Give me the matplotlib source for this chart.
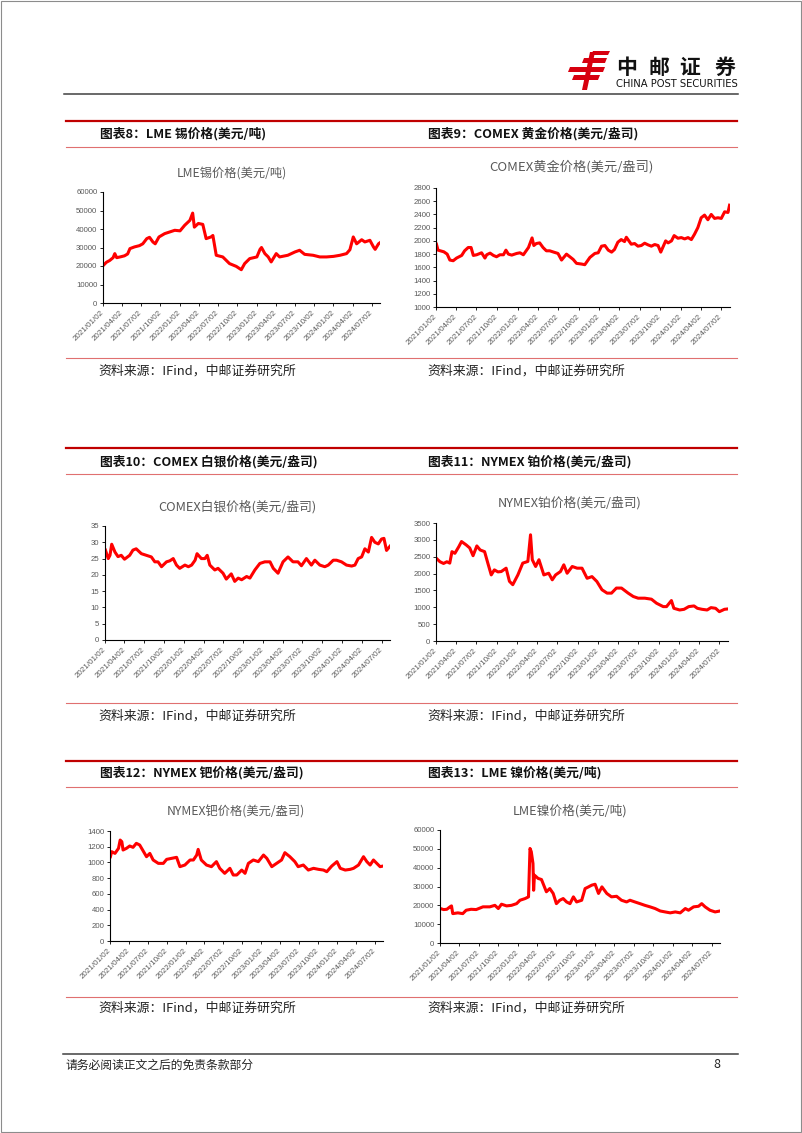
import matplotlib
matplotlib.use('Agg')
import matplotlib.pyplot as plt
from matplotlib.patches import Polygon, Rectangle
import pandas as pd

plt.rcParams['font.family'] = ['Noto Sans CJK SC', 'DejaVu Sans']

W, H = 802, 1133

# ---- 数据----
tick_labels = ['2021/01/02', '2021/04/02', '2021/07/02', '2021/10/02', '2022/01/02',
               '2022/04/02', '2022/07/02', '2022/10/02', '2023/01/02', '2023/04/02',
               '2023/07/02', '2023/10/02', '2024/01/02', '2024/04/02', '2024/07/02']
x_start, x_end = '2021-01-02', '2024-08-10'

# 图表8 LME锡
tin_dates = ['2021-01-04', '2021-01-18', '2021-02-03', '2021-02-19', '2021-02-27', '2021-03-08',
             '2021-03-28', '2021-04-14', '2021-04-29', '2021-05-10', '2021-05-31', '2021-06-24',
             '2021-07-10', '2021-07-29', '2021-08-11', '2021-08-27', '2021-09-07', '2021-09-25',
             '2021-10-22', '2021-11-15', '2021-12-09', '2022-01-03', '2022-01-25', '2022-02-19',
             '2022-03-04', '2022-03-12', '2022-03-31', '2022-04-21', '2022-05-07', '2022-05-30',
             '2022-06-08', '2022-06-24', '2022-07-25', '2022-08-26', '2022-09-27', '2022-10-21',
             '2022-11-06', '2022-11-30', '2023-01-03', '2023-01-18', '2023-01-25', '2023-02-10',
             '2023-02-26', '2023-03-12', '2023-04-05', '2023-04-21', '2023-05-30', '2023-07-03',
             '2023-07-25', '2023-08-18', '2023-09-27', '2023-10-29', '2023-11-30', '2024-01-02',
             '2024-02-02', '2024-03-04', '2024-03-20', '2024-04-05', '2024-04-21', '2024-05-15',
             '2024-05-30', '2024-06-23', '2024-07-10', '2024-07-18', '2024-08-03', '2024-08-09']
tin_vals = [20400, 22000, 23000, 24500, 26700, 24500, 25000, 25500, 26500, 29400, 30300, 31000,
            32000, 34800, 35500, 33000, 32000, 35700, 37500, 38400, 39300, 39000, 42000, 44700,
            48600, 41000, 43000, 42500, 34800, 35700, 36500, 25800, 24900, 21300, 19800, 18000,
            21300, 24000, 24900, 29000, 30000, 26700, 24900, 22200, 26700, 24900, 25800, 27600,
            28500, 26300, 25800, 24900, 24900, 25200, 25800, 26700, 28800, 35700, 32000, 34200,
            33000, 33900, 30300, 29000, 32000, 32500]

# 图表9 COMEX黄金
gold_dates = ['2021-01-04', '2021-01-11', '2021-02-06', '2021-02-21', '2021-03-05', '2021-03-20',
              '2021-04-04', '2021-04-27', '2021-05-10', '2021-05-26', '2021-06-08', '2021-06-18',
              '2021-07-03', '2021-07-25', '2021-08-09', '2021-08-17', '2021-09-01', '2021-09-16',
              '2021-09-30', '2021-10-15', '2021-10-31', '2021-11-11', '2021-11-22', '2021-12-07',
              '2021-12-29', '2022-01-13', '2022-01-28', '2022-02-20', '2022-03-08', '2022-03-16',
              '2022-03-27', '2022-04-11', '2022-04-26', '2022-05-11', '2022-05-26', '2022-06-13',
              '2022-07-02', '2022-07-18', '2022-08-09', '2022-08-24', '2022-09-08', '2022-09-23',
              '2022-10-15', '2022-10-30', '2022-11-22', '2022-12-14', '2022-12-29', '2023-01-13',
              '2023-01-28', '2023-02-12', '2023-02-27', '2023-03-12', '2023-03-27', '2023-04-11',
              '2023-04-26', '2023-05-04', '2023-05-26', '2023-06-10', '2023-06-25', '2023-07-10',
              '2023-07-25', '2023-08-09', '2023-08-24', '2023-09-08', '2023-09-23', '2023-10-05',
              '2023-10-27', '2023-11-07', '2023-11-22', '2023-12-04', '2023-12-21', '2024-01-05',
              '2024-01-20', '2024-02-04', '2024-02-19', '2024-03-04', '2024-03-19', '2024-04-03',
              '2024-04-18', '2024-05-03', '2024-05-18', '2024-06-02', '2024-06-17', '2024-07-02',
              '2024-07-17', '2024-08-01', '2024-08-08']
gold_vals = [1950, 1860, 1835, 1800, 1710, 1700, 1740, 1780, 1850, 1900, 1900, 1780,
             1790, 1820, 1740, 1790, 1815, 1780, 1760, 1790, 1790, 1860, 1800, 1785,
             1810, 1820, 1790, 1900, 2045, 1930, 1960, 1970, 1900, 1850, 1850, 1830,
             1810, 1710, 1800, 1760, 1720, 1660, 1650, 1640, 1750, 1810, 1820, 1920,
             1930, 1860, 1830, 1870, 1980, 2020, 1990, 2055, 1950, 1960, 1920, 1930,
             1965, 1940, 1920, 1945, 1930, 1830, 2000, 1970, 2000, 2080, 2040, 2050,
             2030, 2050, 2020, 2100, 2200, 2350, 2390, 2320, 2400, 2340, 2350, 2340,
             2440, 2430, 2540]

# 图表10 COMEX白银
silver_dates = ['2021-01-04', '2021-01-17', '2021-01-25', '2021-02-02', '2021-02-17', '2021-03-03',
                '2021-03-18', '2021-04-02', '2021-04-26', '2021-05-11', '2021-05-26', '2021-06-19',
                '2021-07-12', '2021-08-04', '2021-08-20', '2021-09-04', '2021-09-20', '2021-10-13',
                '2021-10-28', '2021-11-13', '2021-11-28', '2021-12-13', '2022-01-06', '2022-01-22',
                '2022-02-06', '2022-02-22', '2022-03-03', '2022-03-23', '2022-04-08', '2022-04-19',
                '2022-05-01', '2022-05-24', '2022-06-08', '2022-07-01', '2022-07-16', '2022-08-08',
                '2022-08-24', '2022-09-09', '2022-09-25', '2022-10-18', '2022-11-02', '2022-11-25',
                '2022-12-18', '2023-01-10', '2023-02-03', '2023-02-18', '2023-03-12', '2023-04-04',
                '2023-04-27', '2023-05-20', '2023-06-12', '2023-06-28', '2023-07-21', '2023-08-13',
                '2023-08-29', '2023-09-21', '2023-10-14', '2023-10-30', '2023-11-22', '2023-12-07',
                '2023-12-30', '2024-01-22', '2024-02-15', '2024-03-01', '2024-03-16', '2024-04-01',
                '2024-04-16', '2024-05-02', '2024-05-17', '2024-06-01', '2024-06-17', '2024-07-02',
                '2024-07-13', '2024-07-25', '2024-08-10']
silver_vals = [27.6, 25.0, 26.0, 29.4, 27.0, 25.6, 26.0, 24.8, 26.0, 27.6, 28.0, 26.5,
               26.0, 25.5, 24.0, 24.0, 22.5, 24.0, 24.3, 25.0, 23.0, 22.0, 23.0, 22.5,
               23.0, 24.5, 26.5, 25.0, 25.0, 26.0, 23.0, 21.5, 22.0, 20.5, 18.7, 20.3,
               18.0, 19.0, 18.5, 19.5, 19.0, 21.5, 23.5, 24.0, 24.0, 22.0, 20.5, 24.0,
               25.5, 24.0, 24.0, 22.8, 25.0, 23.0, 24.5, 23.0, 22.5, 23.0, 24.5, 24.5,
               24.0, 23.0, 22.7, 23.0, 25.0, 25.5, 28.0, 27.0, 31.5, 30.0, 29.5, 31.0,
               31.2, 27.5, 28.8]

# 图表11 NYMEX铂
plat_dates = ['2021-01-04', '2021-01-20', '2021-02-05', '2021-02-20', '2021-03-05', '2021-03-15',
              '2021-03-28', '2021-04-15', '2021-04-27', '2021-05-18', '2021-06-03', '2021-06-18',
              '2021-07-05', '2021-07-20', '2021-08-09', '2021-08-24', '2021-09-08', '2021-09-22',
              '2021-10-08', '2021-10-23', '2021-11-14', '2021-11-29', '2021-12-14', '2022-01-06',
              '2022-01-28', '2022-02-20', '2022-03-04', '2022-03-12', '2022-03-27', '2022-04-11',
              '2022-05-03', '2022-05-25', '2022-06-10', '2022-06-25', '2022-07-17', '2022-08-01',
              '2022-08-16', '2022-09-08', '2022-09-30', '2022-10-22', '2022-11-14', '2022-12-06',
              '2022-12-28', '2023-01-20', '2023-02-12', '2023-03-04', '2023-03-26', '2023-04-18',
              '2023-05-18', '2023-06-10', '2023-07-02', '2023-08-01', '2023-08-31', '2023-09-23',
              '2023-10-23', '2023-11-07', '2023-11-29', '2023-12-10', '2024-01-05', '2024-01-25',
              '2024-02-15', '2024-03-10', '2024-03-25', '2024-04-15', '2024-05-08', '2024-05-25',
              '2024-06-15', '2024-07-02', '2024-07-25', '2024-08-08']
plat_vals = [2450, 2350, 2300, 2350, 2310, 2650, 2600, 2800, 2950, 2850, 2760, 2530,
             2820, 2700, 2650, 2300, 1960, 2110, 2050, 2060, 2160, 1770, 1670, 1960,
             2310, 2360, 3150, 2410, 2210, 2410, 1960, 2010, 1815, 1960, 2060, 2260,
             2010, 2210, 2160, 2160, 1860, 1910, 1765, 1520, 1420, 1420, 1570, 1570,
             1420, 1320, 1270, 1270, 1240, 1120, 1020, 1020, 1200, 970, 920, 940,
             1020, 1040, 970, 940, 920, 990, 970, 870, 940, 950]

# 图表12 NYMEX钯
pall_dates = ['2021-01-04', '2021-01-10', '2021-01-26', '2021-02-12', '2021-02-20', '2021-02-28',
              '2021-03-06', '2021-03-22', '2021-04-07', '2021-04-23', '2021-05-09', '2021-05-25',
              '2021-06-10', '2021-06-27', '2021-07-13', '2021-07-29', '2021-08-23', '2021-09-16',
              '2021-10-02', '2021-10-26', '2021-11-19', '2021-12-05', '2021-12-29', '2022-01-23',
              '2022-02-08', '2022-02-24', '2022-03-03', '2022-03-18', '2022-04-12', '2022-05-06',
              '2022-05-30', '2022-06-15', '2022-07-09', '2022-08-03', '2022-08-19', '2022-09-05',
              '2022-09-29', '2022-10-15', '2022-10-31', '2022-11-24', '2022-12-18', '2023-01-12',
              '2023-01-28', '2023-02-21', '2023-03-16', '2023-04-09', '2023-04-25', '2023-05-19',
              '2023-06-12', '2023-06-28', '2023-07-23', '2023-08-16', '2023-09-10', '2023-10-04',
              '2023-10-28', '2023-11-13', '2023-12-07', '2024-01-01', '2024-01-17', '2024-02-10',
              '2024-03-05', '2024-03-21', '2024-04-14', '2024-05-08', '2024-05-24', '2024-06-09',
              '2024-06-25', '2024-07-11', '2024-07-27', '2024-08-10']
pall_vals = [1073, 1137, 1115, 1179, 1285, 1264, 1158, 1179, 1209, 1192, 1243, 1222,
             1150, 1073, 1115, 1031, 988, 988, 1039, 1052, 1065, 946, 967, 1031,
             1031, 1094, 1166, 1031, 967, 946, 1010, 925, 861, 925, 840, 840,
             903, 861, 988, 1031, 1010, 1094, 1052, 946, 988, 1031, 1124, 1073,
             1010, 946, 967, 903, 925, 912, 903, 882, 954, 1010, 925, 903,
             912, 925, 967, 1073, 1010, 967, 1031, 988, 946, 954]

# 图表13 LME镍
nick_dates = ['2021-01-04', '2021-01-19', '2021-02-03', '2021-02-18', '2021-02-25', '2021-03-03',
              '2021-03-27', '2021-04-19', '2021-05-05', '2021-05-28', '2021-06-21', '2021-07-23',
              '2021-08-24', '2021-09-17', '2021-10-03', '2021-10-18', '2021-11-11', '2021-12-04',
              '2021-12-28', '2022-01-13', '2022-02-06', '2022-02-22', '2022-03-01', '2022-03-07',
              '2022-03-15', '2022-03-18', '2022-03-22', '2022-04-08', '2022-04-24', '2022-05-17',
              '2022-06-02', '2022-06-18', '2022-07-03', '2022-07-19', '2022-08-04', '2022-08-20',
              '2022-09-05', '2022-09-21', '2022-10-06', '2022-10-30', '2022-11-15', '2022-12-01',
              '2022-12-16', '2023-01-01', '2023-01-17', '2023-02-02', '2023-02-25', '2023-03-19',
              '2023-04-12', '2023-05-05', '2023-05-29', '2023-06-14', '2023-07-07', '2023-07-31',
              '2023-08-23', '2023-09-16', '2023-10-10', '2023-11-03', '2023-11-26', '2023-12-20',
              '2024-01-13', '2024-02-05', '2024-02-29', '2024-03-15', '2024-04-08', '2024-05-01',
              '2024-05-16', '2024-06-01', '2024-06-24', '2024-07-18', '2024-08-10']
nick_vals = [18300, 17750, 17900, 19200, 19700, 15600, 16000, 15600, 17400, 17900, 17750, 19200,
             19200, 20000, 18300, 20600, 19700, 20000, 20900, 22700, 23600, 24500, 50200, 48500,
             42200, 28000, 36000, 34300, 33700, 27200, 28900, 26300, 20900, 22700, 23600, 21800,
             20900, 24500, 21800, 22700, 28900, 29800, 30700, 31200, 26300, 29800, 26300, 24500,
             24800, 22700, 21800, 22700, 21800, 20900, 20000, 19200, 18300, 17000, 16500, 16000,
             16500, 16000, 18300, 17400, 19200, 19500, 20900, 19200, 17400, 16500, 17000]

fig = plt.figure(figsize=(W / 100, H / 100), dpi=100)

# 页面装饰层（像素坐标）
page = fig.add_axes([0, 0, 1, 1])
page.set_xlim(0, W)
page.set_ylim(H, 0)
page.axis('off')

page.add_patch(Rectangle((0.5, 0.5), W - 1.5, H - 1.5, fill=False, ec='#8c8c8c', lw=0.8))

# logo
red_logo = '#d7000f'
for pts in [[(593, 51), (610, 51), (608, 55), (591, 55)],
            [(584, 58), (607, 58), (605, 63), (582, 63)],
            [(570, 67), (605, 67), (603, 72), (568, 72)],
            [(574, 75), (600, 75), (598, 80), (572, 80)],
            [(590, 52), (595, 52), (587, 90), (582, 90)]]:
    page.add_patch(Polygon(pts, closed=True, fc=red_logo, ec='none'))
for ch, cx in zip('中邮证券', [627, 659, 690, 725]):
    page.text(cx, 67, ch, fontsize=15, fontweight='bold', ha='center', va='center', color='#111111')
page.text(677, 84, 'CHINA POST SECURITIES', fontsize=7.2, ha='center', va='center',
          family=['Liberation Sans Narrow', 'DejaVu Sans'], color='#111111')
page.plot([64, 738], [94, 94], color='#404040', lw=1.1)

# 各图表框线与标题
rows = [(121, 134, 147, 358, 371), (448, 462, 474, 703, 716), (761, 773, 787, 997, 1008)]
titles = [('图表8：LME 锡价格(美元/吨)', '图表9：COMEX 黄金价格(美元/盎司)'),
          ('图表10：COMEX 白银价格(美元/盎司)', '图表11：NYMEX 铂价格(美元/盎司)'),
          ('图表12：NYMEX 钯价格(美元/盎司)', '图表13：LME 镍价格(美元/吨)')]
source = '资料来源：IFind，中邮证券研究所'
for (y_top, y_title, y_sub, y_src, y_srct), (tl, tr) in zip(rows, titles):
    page.plot([66, 737], [y_top, y_top], color='#c00000', lw=1.6)
    page.plot([66, 737], [y_sub, y_sub], color='#e07070', lw=0.8)
    page.plot([66, 737], [y_src, y_src], color='#e07070', lw=0.8)
    page.text(100, y_title, tl, fontsize=9.2, fontweight='bold', va='center', color='#111111')
    page.text(428, y_title, tr, fontsize=9.2, fontweight='bold', va='center', color='#111111')
    page.text(98, y_srct, source, fontsize=9.3, va='center', color='#222222')
    page.text(427, y_srct, source, fontsize=9.3, va='center', color='#222222')

# 页脚
page.plot([63, 738], [1054, 1054], color='#404040', lw=1.1)
page.text(65, 1065, '请务必阅读正文之后的免责条款部分', fontsize=8.5, va='center', color='#222222')
page.text(717, 1065, '8', fontsize=9, va='center', ha='center', color='#222222')

tick_pos = pd.to_datetime([t.replace('/', '-') for t in tick_labels])


def chart(box, dates, vals, ylim, ystep, title, tpos, tsize=9.0):
    x0, y0, x1, y1 = box
    ax = fig.add_axes([x0 / W, 1 - y1 / H, (x1 - x0) / W, (y1 - y0) / H])
    ax.plot(pd.to_datetime(dates), vals, color='#ff0000', lw=2.2, solid_joinstyle='round')
    ax.set_xlim(pd.Timestamp(x_start), pd.Timestamp(x_end))
    ax.set_ylim(*ylim)
    ax.set_yticks(list(range(ylim[0], ylim[1] + 1, ystep)))
    ax.set_xticks(tick_pos)
    ax.set_xticklabels(tick_labels, rotation=45, ha='right', va='center', rotation_mode='anchor')
    for s in ['top', 'right']:
        ax.spines[s].set_visible(False)
    for s in ['left', 'bottom']:
        ax.spines[s].set_color('#000000')
        ax.spines[s].set_linewidth(0.8)
    ax.tick_params(axis='both', labelsize=5.6, labelcolor='#595959', length=2, width=0.6,
                   color='#000000', pad=2)
    ax.tick_params(axis='x', pad=4, labelsize=5.8)
    for lab in ax.get_xticklabels() + ax.get_yticklabels():
        lab.set_family(['Liberation Sans', 'DejaVu Sans'])
    page.text(tpos[0], tpos[1], title, fontsize=tsize, ha='center', va='center', color='#595959')
    return ax


chart((103, 192, 380, 303), tin_dates, tin_vals, (0, 60000), 10000,
      'LME锡价格(美元/吨)', (232, 173), 8.8)
chart((436, 188, 730, 307), gold_dates, gold_vals, (1000, 2800), 200,
      'COMEX黄金价格(美元/盎司)', (571, 167), 9.5)
chart((105, 526, 390, 640), silver_dates, silver_vals, (0, 35), 5,
      'COMEX白银价格(美元/盎司)', (237, 507), 9.2)
chart((436, 523, 728, 641), plat_dates, plat_vals, (0, 3500), 500,
      'NYMEX铂价格(美元/盎司)', (570, 503), 9.2)
chart((110, 831, 383, 941), pall_dates, pall_vals, (0, 1400), 200,
      'NYMEX钯价格(美元/盎司)', (236, 812), 8.8)
chart((440, 830, 720, 943), nick_dates, nick_vals, (0, 60000), 10000,
      'LME镍价格(美元/吨)', (570, 811), 9.2)

fig.savefig('out.png', dpi=100)
